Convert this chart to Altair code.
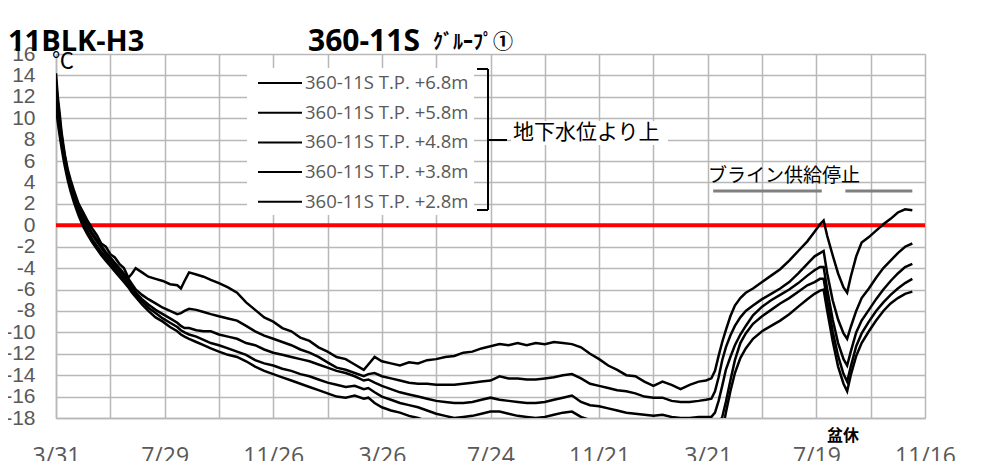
import altair as alt
import pandas as pd

# ---- data ----
days = [0, 2, 4, 6, 8, 10, 13, 16, 20, 25,
        30, 35, 40, 45, 50, 55, 60, 65, 70, 75,
        80, 84, 88, 95, 102, 110, 118, 126, 134, 138,
        142, 147, 155, 163, 171, 180, 190, 200, 210, 220,
        230, 240, 250, 260, 270, 280, 290, 300, 310, 320,
        330, 340, 345, 352, 360, 370, 380, 390, 400, 410,
        420, 430, 440, 450, 460, 470, 480, 490, 500, 510,
        520, 530, 540, 550, 560, 570, 580, 590, 600, 610,
        620, 630, 640, 650, 660, 670, 680, 690, 700, 710,
        718, 724, 728, 732, 736, 740, 745, 750, 756, 762,
        770, 780, 790, 800, 810, 820, 830, 838, 844, 848,
        852, 858, 864, 870, 874, 878, 884, 890, 898, 906,
        914, 922, 930, 938, 946]

s_68 = [14.2, 12.0, 10.5, 8.8, 7.6, 6.5, 5.2, 4.3, 3.2, 2.0,
        1.2, 0.4, -0.3, -0.9, -1.7, -2.0, -2.7, -3.0, -3.6, -4.0,
        -4.9, -4.5, -4.0, -4.4, -4.8, -5.0, -5.2, -5.5, -5.6, -5.9,
        -5.2, -4.4, -4.6, -4.8, -5.1, -5.4, -5.8, -6.3, -7.2, -7.9,
        -8.6, -9.0, -9.6, -9.9, -10.5, -10.8, -11.4, -11.8, -12.3, -12.5,
        -13.0, -13.5, -13.0, -12.3, -12.7, -12.9, -13.1, -12.8, -12.9, -12.6,
        -12.5, -12.3, -12.2, -11.9, -11.8, -11.5, -11.3, -11.1, -11.2, -11.0,
        -11.2, -11.0, -11.1, -10.9, -11.0, -11.1, -11.4, -12.0, -12.5, -13.1,
        -13.5, -14.0, -14.1, -14.6, -15.0, -14.6, -14.9, -15.3, -14.9, -14.6,
        -14.5, -14.3, -13.6, -12.2, -10.9, -9.8, -8.5, -7.5, -6.8, -6.3,
        -5.9, -5.3, -4.7, -4.1, -3.3, -2.4, -1.5, -0.6, 0.1, 0.45,
        -1.0, -2.8, -4.5, -5.8, -6.3, -4.8, -2.9, -1.6, -1.1, -0.5,
        0.1, 0.6, 1.2, 1.5, 1.4]

s_58 = [13.5, 11.5, 10.0, 8.5, 7.3, 6.3, 5.0, 4.0, 2.9, 1.7,
        0.8, 0.0, -0.7, -1.3, -1.9, -2.5, -3.0, -3.5, -4.0, -4.5,
        -5.0, -5.5, -6.0, -6.5, -6.9, -7.3, -7.7, -8.0, -8.3, -8.2,
        -8.0, -7.8, -7.9, -8.1, -8.3, -8.5, -8.7, -8.9, -9.4, -9.9,
        -10.3, -10.6, -10.9, -11.2, -11.6, -11.9, -12.3, -12.8, -13.3, -13.5,
        -13.8, -14.1, -13.9, -13.8, -14.1, -14.3, -14.5, -14.7, -14.8, -14.8,
        -14.9, -14.9, -14.9, -14.8, -14.7, -14.6, -14.5, -14.1, -14.3, -14.3,
        -14.4, -14.4, -14.3, -14.2, -14.0, -13.9, -14.3, -14.8, -15.0, -15.2,
        -15.4, -15.5, -15.7, -16.0, -16.1, -16.1, -16.4, -16.5, -16.5, -16.4,
        -16.3, -16.2, -15.5, -14.2, -12.6, -11.4, -10.3, -9.4, -8.6, -8.0,
        -7.5, -6.9, -6.4, -5.9, -5.3, -4.5, -3.6, -2.9, -2.6, -2.4,
        -4.5, -7.0, -8.8, -10.1, -10.6, -9.5, -8.0, -6.8, -5.9, -4.9,
        -4.0, -3.3, -2.6, -2.0, -1.7]

s_48 = [12.8, 11.0, 9.5, 8.2, 7.0, 6.0, 4.8, 3.8, 2.7, 1.5,
        0.6, -0.2, -0.9, -1.5, -2.1, -2.7, -3.2, -3.7, -4.2, -4.7,
        -5.3, -5.8, -6.3, -6.9, -7.4, -7.9, -8.3, -8.7, -9.1, -9.4,
        -9.6, -9.6, -9.8, -9.9, -9.9, -10.2, -10.4, -10.6, -11.0, -11.2,
        -11.6, -11.9, -12.1, -12.3, -12.5, -12.7, -13.0, -13.3, -13.6, -13.8,
        -14.1, -14.5, -14.4, -14.7, -15.0, -15.3, -15.6, -15.8, -16.0, -16.2,
        -16.4, -16.5, -16.6, -16.6, -16.5, -16.3, -16.1, -16.3, -16.4, -16.5,
        -16.6, -16.6, -16.5, -16.3, -16.1, -15.9, -16.5, -16.8, -16.9, -17.1,
        -17.3, -17.5, -17.6, -17.7, -17.8, -17.7, -17.9, -18.0, -18.0, -17.9,
        -17.9, -17.9, -17.5, -16.4, -15.0, -13.5, -12.3, -11.2, -10.2, -9.4,
        -8.4, -7.6, -7.0, -6.5, -6.0, -5.4, -4.7, -4.2, -3.9, -3.9,
        -6.0, -8.8, -11.0, -12.5, -13.1, -11.8, -10.0, -8.9, -7.9, -6.9,
        -6.0, -5.2, -4.5, -3.9, -3.6]

s_38 = [12.0, 10.4, 9.0, 7.8, 6.7, 5.7, 4.5, 3.5, 2.4, 1.2,
        0.2, -0.6, -1.3, -1.9, -2.5, -3.0, -3.5, -4.0, -4.5, -5.0,
        -5.6, -6.0, -6.5, -7.1, -7.7, -8.2, -8.7, -9.1, -9.5, -9.8,
        -10.0, -10.2, -10.4, -10.7, -11.0, -11.2, -11.5, -11.8, -12.1, -12.6,
        -12.9, -13.1, -13.4, -13.6, -13.9, -14.1, -14.4, -14.7, -14.9, -15.1,
        -15.0, -15.3, -15.2, -15.6, -16.0, -16.3, -16.6, -16.8, -17.0, -17.3,
        -17.6, -17.8, -18.0, -17.9, -17.8, -17.6, -17.4, -17.4, -17.6, -17.8,
        -17.9, -18.0, -17.9, -17.7, -17.5, -17.4, -17.9, -18.2, -18.4, -18.6,
        -18.8, -18.9, -19.0, -19.1, -19.2, -19.2, -19.3, -19.4, -19.4, -19.3,
        -19.3, -19.2, -19.0, -18.6, -17.9, -16.5, -14.5, -12.6, -11.0, -10.1,
        -9.2, -8.5, -7.9, -7.3, -6.8, -6.2, -5.6, -5.3, -5.0, -5.0,
        -7.0, -9.9, -12.2, -13.9, -14.6, -13.2, -11.3, -10.1, -9.0, -8.0,
        -7.2, -6.5, -5.9, -5.4, -5.0]

s_28 = [11.0, 9.6, 8.4, 7.3, 6.3, 5.4, 4.2, 3.2, 2.1, 0.9,
        -0.1, -0.9, -1.6, -2.2, -2.8, -3.3, -3.8, -4.3, -4.8, -5.3,
        -5.8, -6.3, -6.7, -7.4, -8.0, -8.6, -9.0, -9.5, -9.9, -10.2,
        -10.4, -10.6, -10.9, -11.2, -11.5, -11.8, -12.1, -12.3, -12.7, -13.2,
        -13.6, -13.9, -14.2, -14.5, -14.8, -15.1, -15.4, -15.7, -16.0, -16.1,
        -15.9, -16.2, -16.1, -16.6, -17.0, -17.3, -17.5, -17.8, -18.0, -18.3,
        -18.6, -18.8, -19.0, -19.0, -18.9, -18.7, -18.6, -18.6, -18.8, -19.0,
        -19.1, -19.2, -19.1, -18.9, -18.7, -18.6, -19.1, -19.4, -19.6, -19.8,
        -20.0, -20.1, -20.2, -20.3, -20.4, -20.4, -20.5, -20.6, -20.6, -20.5,
        -20.5, -20.4, -20.2, -19.8, -19.3, -17.5, -15.5, -13.8, -12.4, -11.5,
        -10.6, -9.9, -9.4, -8.9, -8.3, -7.6, -6.9, -6.4, -6.1, -6.0,
        -8.0, -10.8, -13.2, -14.8, -15.5, -14.0, -12.2, -11.0, -9.9, -8.9,
        -8.0, -7.3, -6.8, -6.4, -6.2]

series_names = ["360-11S T.P. +6.8m", "360-11S T.P. +5.8m", "360-11S T.P. +4.8m",
                "360-11S T.P. +3.8m", "360-11S T.P. +2.8m"]
series_values = [s_68, s_58, s_48, s_38, s_28]

tick_labels = ["3/31", "7/29", "11/26", "3/26", "7/24", "11/21", "3/21", "7/19", "11/16"]
grid_days = list(range(0, 961, 60))
y_ticks = list(range(-18, 17, 2))

brine_start = [726, 872]
brine_end = [846, 946]
brine_level = [3.2, 3.2]

# ---- build table ----
rows = []
for name, vals in zip(series_names, series_values):
    assert len(vals) == len(days), name
    for d, v in zip(days, vals):
        rows.append({"day": d, "temp": v, "series": name})
df = pd.DataFrame(rows)

label_arr = "[" + ",".join("'%s'" % t for t in tick_labels) + "]"
x_label_expr = "datum.value % 120 == 0 ? " + label_arr + "[floor(datum.value / 120)] : ''"
y_label_expr = "datum.value < 0 ? '-' + (-datum.value) : '' + datum.value"

GRAY = "#595959"
GRID = "#b8b8b8"

x_axis = alt.Axis(values=grid_days, labelExpr=x_label_expr, title=None,
                  ticks=False, labelFontSize=23, labelColor=GRAY,
                  labelFont="Open Sans", labelPadding=27, labelFlush=False,
                  labelOverlap=False, domainColor=GRID, domainWidth=1.5,
                  gridColor=GRID, gridWidth=1.5)
y_axis = alt.Axis(values=y_ticks, labelExpr=y_label_expr, title=None, ticks=False,
                  labelFontSize=21, labelColor=GRAY, labelFont="Liberation Sans",
                  labelPadding=21, labelFlush=False, labelOverlap=False,
                  domainColor=GRID, domainWidth=1.5, gridColor=GRID, gridWidth=1.5)
x_scale = alt.Scale(domain=[0, 960], nice=False, zero=False)
y_scale = alt.Scale(domain=[-18, 16], nice=False, zero=False)

lines = alt.Chart(df).mark_line(clip=True, strokeWidth=2.5).encode(
    x=alt.X("day:Q", scale=x_scale, axis=x_axis),
    y=alt.Y("temp:Q", scale=y_scale, axis=y_axis),
    color=alt.Color("series:N",
                    scale=alt.Scale(domain=series_names, range=["#000000"] * 5),
                    legend=None),
    detail="series:N",
)

zero_line = alt.Chart(pd.DataFrame({"z": [0]})).mark_rule(color="#ff0000", strokeWidth=4).encode(
    y=alt.Y("z:Q", scale=y_scale, axis=y_axis))

brine = alt.Chart(pd.DataFrame({"s": brine_start, "e": brine_end, "lv": brine_level})).mark_rule(
    color="#808080", strokeWidth=3).encode(
    x=alt.X("s:Q", scale=x_scale, axis=x_axis), x2="e:Q",
    y=alt.Y("lv:Q", scale=y_scale, axis=y_axis))


def label(text, x, y, size, font="Noto Sans CJK JP", weight="normal", color="black",
          align="left", baseline="alphabetic"):
    return alt.Chart(pd.DataFrame({"t": [text]})).mark_text(
        fontSize=size, font=font, fontWeight=weight, color=color, align=align,
        baseline=baseline).encode(text="t:N", x=alt.value(x), y=alt.value(y))


def box(x1, x2, y1, y2, color="white"):
    return alt.Chart(pd.DataFrame({"a": [0]})).mark_rect(color=color).encode(
        x=alt.value(x1), x2=alt.value(x2), y=alt.value(y1), y2=alt.value(y2))


def seg(x1, x2, y1, y2, color="black", w=2):
    return alt.Chart(pd.DataFrame({"a": [0]})).mark_rule(color=color, strokeWidth=w).encode(
        x=alt.value(x1), x2=alt.value(x2), y=alt.value(y1), y2=alt.value(y2))


# legend (white box, line samples, labels)
legend_layers = [box(191, 418, 14, 161)]
for i, name in enumerate(series_names):
    yy = 29 + i * 29.7
    legend_layers.append(seg(202, 246, yy, yy))
    legend_layers.append(label(name, 249, yy, 18.5, font="Open Sans", color=GRAY,
                               baseline="middle"))

bracket = [seg(432, 432, 15, 156), seg(421, 432, 15, 15), seg(421, 432, 156, 156),
           seg(432, 451, 86, 86)]

texts = [
    box(455, 612, 67, 91),
    label("11BLK-H3", -48, -3, 29, font="Open Sans", weight="bold"),
    label("360-11S", 252, -3, 30, font="Open Sans", weight="bold"),
    label("ｸﾞﾙｰﾌﾟ①", 377, -5, 20, weight="bold"),
    label("℃", -4, 14, 22, font="Noto Sans CJK JP"),
    label("地下水位より上", 457, 79, 21, baseline="middle"),
    label("ブライン供給停止", 652, 122, 19, baseline="middle"),
    label("盆休", 771, 382, 16, weight="bold", baseline="middle"),
]

chart = alt.layer(zero_line, lines, brine, *legend_layers, *bracket, *texts).properties(
    width=869, height=364,
    padding={"left": 48, "top": 46, "right": 52, "bottom": 43},
    autosize=alt.AutoSizeParams(type="none"),
).configure_view(strokeWidth=0).configure_axis(labelOverlap=False)

chart.save("out.html", embed_options={"renderer": "svg", "actions": False})
